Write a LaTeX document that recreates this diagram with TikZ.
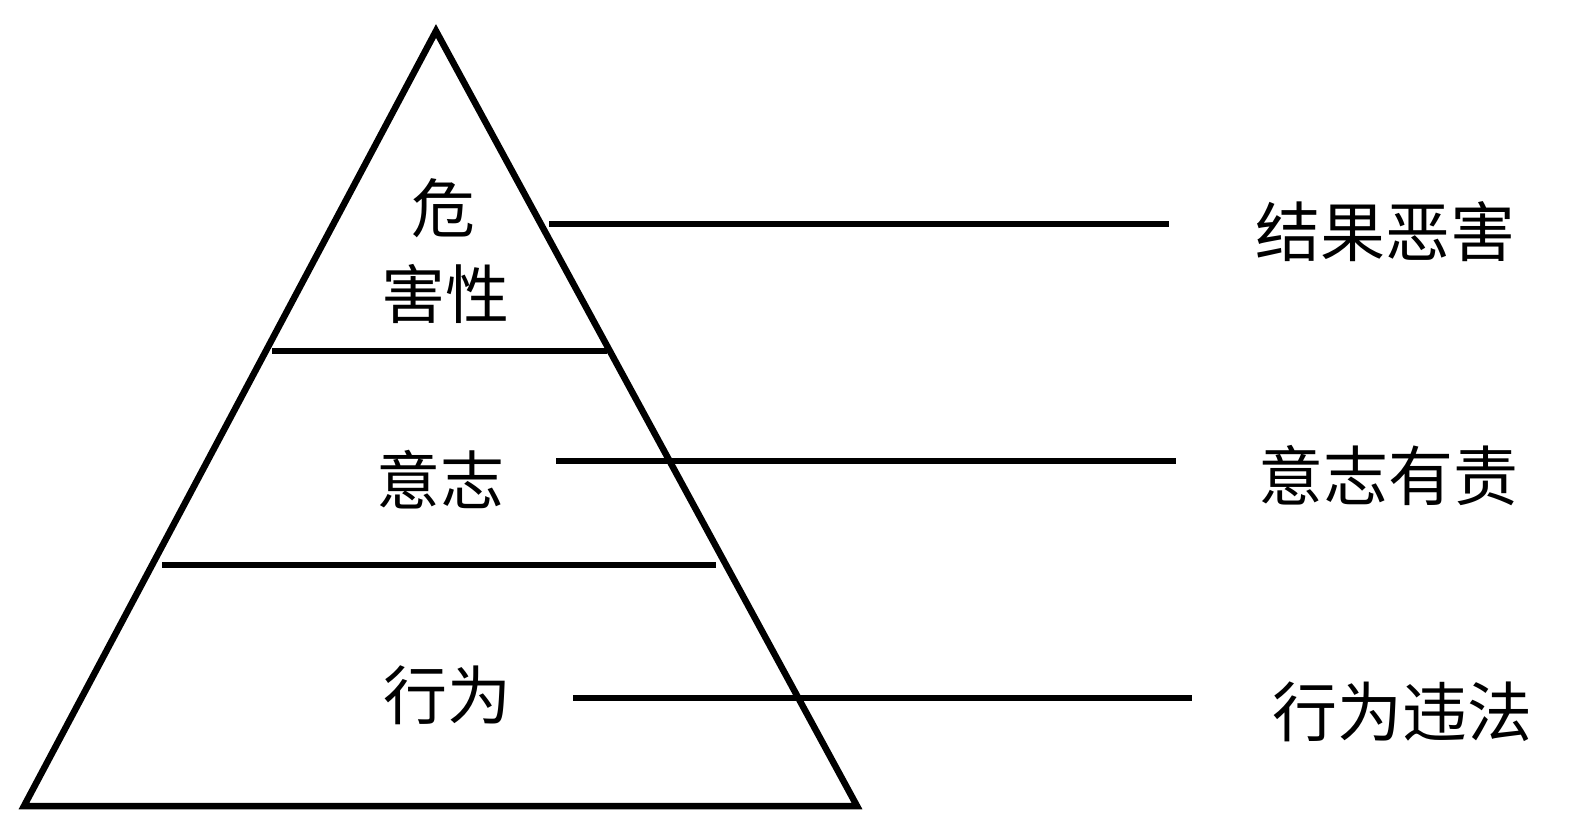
\documentclass[tikz,border=0pt]{standalone}
\usepackage{fontspec}
\newfontfamily\cjk{Noto Sans CJK SC}
\begin{document}
\begin{tikzpicture}[x=1pt,y=-1pt,
  edge/.style={line width=6.5pt},
  lbl/.style={font=\cjk\fontsize{64}{70}\selectfont, inner sep=0pt, align=center},
  rlbl/.style={font=\cjk\fontsize{65}{70}\selectfont, inner sep=0pt}]
\useasboundingbox (0,0) rectangle (1575,840);
\coordinate (apex) at (436,31);
\coordinate (bl) at (24,806);
\coordinate (br) at (857,806);
\draw[edge, line join=miter] (apex) -- (br) -- (bl) -- cycle;
% dividers
\coordinate (d1a) at (272,351); \coordinate (d1b) at (607,351);
\coordinate (d2a) at (162,565); \coordinate (d2b) at (716,565);
\draw[edge] (d1a) -- (d1b);
\draw[edge] (d2a) -- (d2b);
% leaders
\coordinate (l1a) at (549,224); \coordinate (l1b) at (1169,224);
\coordinate (l2a) at (556,461); \coordinate (l2b) at (1176,461);
\coordinate (l3a) at (573,698); \coordinate (l3b) at (1192,698);
\draw[edge] (l1a) -- (l1b);
\draw[edge] (l2a) -- (l2b);
\draw[edge] (l3a) -- (l3b);
% labels in pyramid
\node[lbl] (t1) at (443,208) {危};
\node[lbl] (t2) at (445,294) {害性};
\node[lbl] (t3) at (440,480) {意志};
\node[lbl] (t4) at (447,695) {行为};
% right labels
\node[rlbl] (r1) at (1385,232) {结果恶害};
\node[rlbl] (r2) at (1388,476) {意志有责};
\node[rlbl] (r3) at (1402,712) {行为违法};
\end{tikzpicture}
\end{document}
